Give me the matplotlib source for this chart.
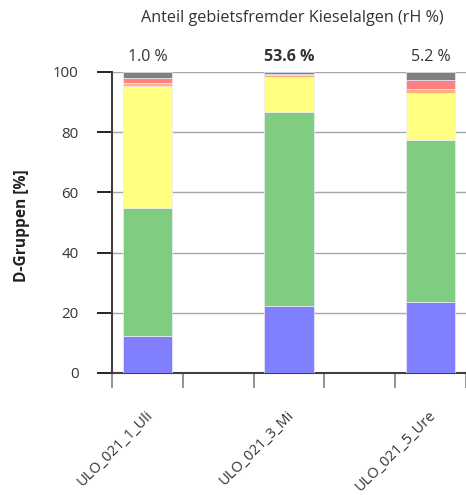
import numpy as np
import matplotlib.pyplot as plt
from matplotlib.transforms import ScaledTranslation

plt.rcParams['font.family'] = ['Open Sans', 'DejaVu Sans']

sites = ["ULO_021_1_Uli", "ULO_021_3_Mi", "ULO_021_5_Ure"]
fremd = ["1.0 %", "53.6 %", "5.2 %"]
fremd_bold = [False, True, False]

# D-Gruppen shares (%), bottom to top
blue = [12.3, 22.3, 23.6]
green = [42.5, 64.5, 53.8]
yellow = [40.5, 11.6, 15.7]
orange = [1.1, 0.6, 1.1]
red = [1.5, 0.3, 3.1]
gray = [2.1, 0.7, 2.7]

layers = [blue, green, yellow, orange, red, gray]
colors = ['#8080FF', '#80CC80', '#FFFF80', '#FFB080', '#FF8080', '#808080']

fig = plt.figure(figsize=(4.66, 4.95), dpi=100)
ax = fig.add_axes([112/466, 1 - 373/495, 1 - 112/466, (373 - 72)/495])

pos = np.array([0.5, 2.5, 4.5])
bottom = np.zeros(3)
for vals, c in zip(layers, colors):
    ax.bar(pos, vals, 0.7, bottom=bottom, color=c, edgecolor='#ececf8', linewidth=0.5, zorder=3)
    bottom += np.array(vals)

ax.set_xlim(0, 5)
ax.set_ylim(0, 100)
ax.set_yticks([0, 20, 40, 60, 80, 100])
ax.yaxis.grid(True, color='#a8a8a8', linewidth=1, zorder=0)
ax.tick_params(axis='y', length=11, width=1.2, color='black', labelsize=10.8,
               labelcolor='#333333', pad=13)

ax.set_xticks([0, 1, 2, 3, 4, 5])
ax.set_xticklabels([])
ax.tick_params(axis='x', which='major', length=11, width=1.2, color='#808080')

# rotated site labels below the bars
lab_tr = ax.get_xaxis_transform() + ScaledTranslation(-2/100, -35/100, fig.dpi_scale_trans)
for x, s in zip(pos, sites):
    ax.text(x, 0, s, transform=lab_tr, rotation=45, rotation_mode='anchor',
            ha='right', va='top', fontsize=10.5, color='#333333', clip_on=False)

for s in ['top', 'right']:
    ax.spines[s].set_visible(False)
ax.spines['left'].set_color('#404040')
ax.spines['left'].set_linewidth(1.5)
ax.spines['bottom'].set_color('#404040')
ax.spines['bottom'].set_linewidth(1.5)

ax.set_ylabel('D-Gruppen [%]', fontweight='bold', fontsize=11.2, color='#222222')
ax.yaxis.label.set_va('center')
ax.yaxis.set_label_coords(-90/354, 0.49)

for x, t, b in zip(pos, fremd, fremd_bold):
    ax.text(x, 105, t, ha='center', va='center', fontsize=11.5,
            fontweight='bold' if b else 'normal', color='#333333', clip_on=False)

ax.text(2.54, 118, 'Anteil gebietsfremder Kieselalgen (rH %)', ha='center', va='center',
        fontsize=11.6, color='#333333', clip_on=False)

fig.savefig('out.png', dpi=100)
